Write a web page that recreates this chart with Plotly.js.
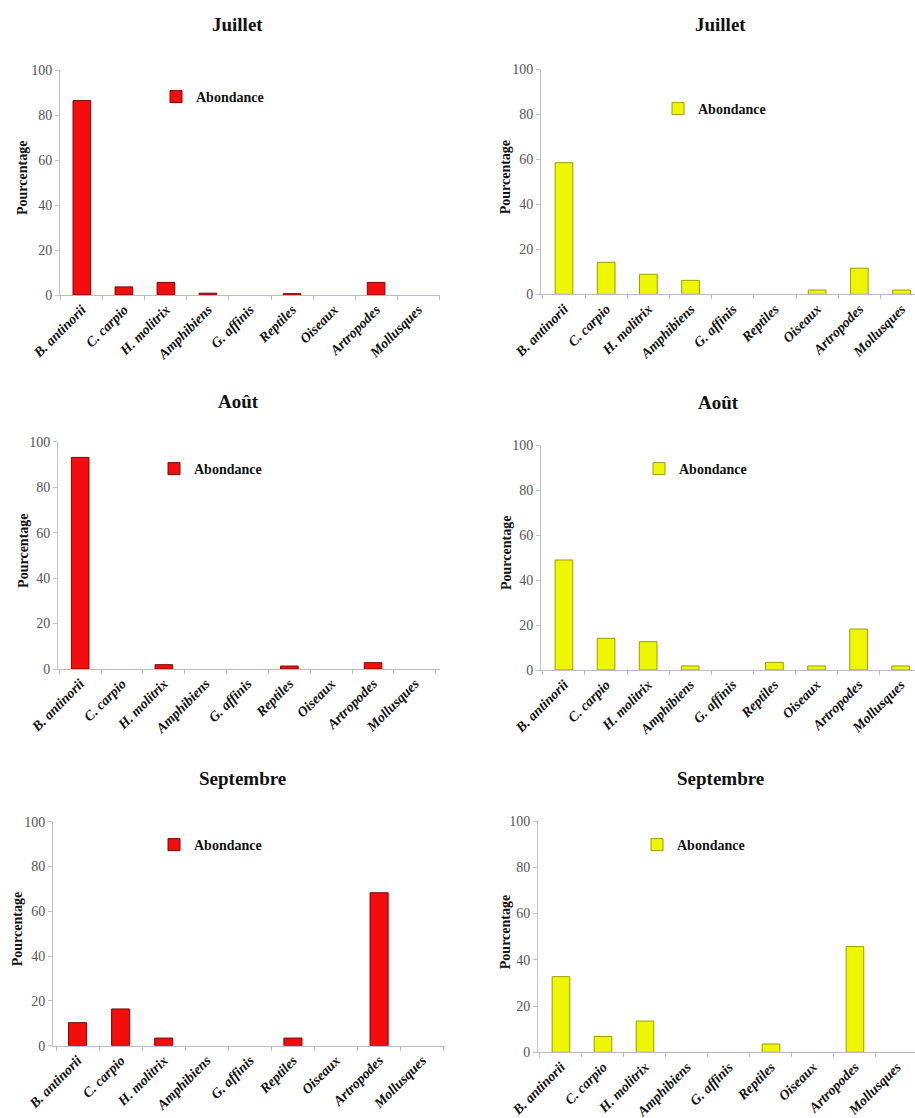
<!DOCTYPE html>
<html>
<head>
<meta charset="utf-8">
<script src="https://cdn.plot.ly/plotly-3.0.1.min.js"></script>
<style>
  html, body { margin: 0; padding: 0; background: #ffffff; }
  #chart { width: 915px; height: 1118px; }
</style>
</head>
<body>
<div id="chart"></div>
<script>
// Prey categories shown on every panel
const categories = ['B. antinorii', 'C. carpio', 'H. molitrix', 'Amphibiens', 'G. affinis',
                    'Reptiles', 'Oiseaux', 'Artropodes', 'Mollusques'];

// Abundance (%) per month, red series (left column)
const juilletRouge = [86.4, 3.6, 5.6, 0.8, 0, 0.6, 0, 5.6, 0];
const aoutRouge    = [93.1, 0, 1.9, 0, 0, 1.3, 0, 2.8, 0];
const septRouge    = [10.3, 16.4, 3.4, 0, 0, 3.4, 0, 68.3, 0];

// Abundance (%) per month, yellow series (right column)
const juilletJaune = [58.5, 14.2, 8.9, 6.2, 0, 0, 1.9, 11.6, 1.9];
const aoutJaune    = [48.9, 14.1, 12.6, 1.8, 0, 3.4, 1.8, 18.2, 1.8];
const septJaune    = [32.7, 6.8, 13.5, 0, 0, 3.6, 0, 45.7, 0];

const monthTitles = ['Juillet', 'Août', 'Septembre'];
const yTicks = [0, 20, 40, 60, 80, 100];
const seriesName = 'Abondance';
const yTitle = 'Pourcentage';

const W = 915, H = 1118;
const px = v => v / W;
const py = v => 1 - v / H;

const SERIF = '"Liberation Serif", "Times New Roman", serif';
const RED = { fill: '#f40d0d', line: '#7c0606' };
const YELLOW = { fill: '#eef600', line: '#9aa000' };

// Panel placement (pixels): plot left/right, baseline y, top y, x range, legend spot, title spot
const panels = [
  { vals: juilletRouge, col: RED,    title: monthTitles[0], x0: 60,  x1: 440, yb: 295,    yt: 70,    xr: [-0.52, 8.52], leg: [156, 97],  tt: [237, 24],  yl: 22 },
  { vals: juilletJaune, col: YELLOW, title: monthTitles[0], x0: 541, x1: 915, yb: 294.3,  yt: 69.3,  xr: [-0.545, 8.32], leg: [658, 109], tt: [720, 24],  yl: 505 },
  { vals: aoutRouge,    col: RED,    title: monthTitles[1], x0: 58,  x1: 440, yb: 669,    yt: 441.7, xr: [-0.53, 8.6],  leg: [154, 469], tt: [238, 401], yl: 24 },
  { vals: aoutJaune,    col: YELLOW, title: monthTitles[1], x0: 541, x1: 915, yb: 670,    yt: 445,   xr: [-0.545, 8.34], leg: [639, 469], tt: [718, 402], yl: 506 },
  { vals: septRouge,    col: RED,    title: monthTitles[2], x0: 53,  x1: 445, yb: 1045.7, yt: 821.7, xr: [-0.57, 8.53], leg: [154, 845], tt: [242, 778], yl: 17 },
  { vals: septJaune,    col: YELLOW, title: monthTitles[2], x0: 538, x1: 915, yb: 1052.3, yt: 821,   xr: [-0.547, 8.43], leg: [637, 845], tt: [720, 778], yl: 505 }
];

const data = [];
const layout = {
  width: W, height: H,
  margin: { l: 0, r: 0, t: 0, b: 0 },
  paper_bgcolor: '#ffffff',
  plot_bgcolor: '#ffffff',
  font: { family: SERIF, color: '#000000' },
  showlegend: true,
  bargap: 0.58,
  annotations: []
};

panels.forEach((p, i) => {
  const n = i + 1;
  const xa = n === 1 ? 'x' : 'x' + n;
  const ya = n === 1 ? 'y' : 'y' + n;
  const legKey = n === 1 ? 'legend' : 'legend' + n;

  data.push({
    type: 'bar',
    x: categories,
    y: p.vals,
    name: seriesName,
    xaxis: xa,
    yaxis: ya,
    legend: legKey,
    showlegend: true,
    width: 0.42,
    marker: {
      color: p.col.fill,
      // no outline on empty categories
      line: { color: p.col.line, width: p.vals.map(v => (v > 0 ? 1 : 0)) }
    },
    hoverinfo: 'x+y'
  });

  layout[n === 1 ? 'xaxis' : 'xaxis' + n] = {
    domain: [px(p.x0), Math.min(1, px(p.x1))],
    anchor: ya,
    type: 'category',
    range: p.xr,
    showgrid: false,
    zeroline: false,
    showline: true,
    linecolor: '#b9b9cf',
    linewidth: 1,
    ticks: 'outside',
    tickson: 'boundaries',
    ticklen: 4,
    tickcolor: '#b9b9cf',
    tickangle: -45,
    tickfont: { family: SERIF, size: 14, weight: 'bold', style: 'italic', color: '#111111' },
    fixedrange: true
  };

  layout[n === 1 ? 'yaxis' : 'yaxis' + n] = {
    domain: [py(p.yb), py(p.yt)],
    anchor: xa,
    range: [0, 100],
    tickvals: yTicks,
    ticktext: yTicks.map(String),
    showgrid: false,
    zeroline: false,
    showline: true,
    linecolor: '#c4c4c4',
    linewidth: 1,
    ticks: 'outside',
    ticklen: 4,
    tickcolor: '#c4c4c4',
    tickfont: { family: SERIF, size: 14, color: '#555555' },
    fixedrange: true
  };

  layout[legKey] = {
    visible: true,
    x: px(p.leg[0]),
    y: py(p.leg[1]),
    xanchor: 'left',
    yanchor: 'middle',
    bgcolor: 'rgba(0,0,0,0)',
    borderwidth: 0,
    font: { family: SERIF, size: 14, weight: 'bold', color: '#111111' }
  };

  // Month heading above each panel
  layout.annotations.push({
    text: p.title,
    xref: 'paper', yref: 'paper',
    x: px(p.tt[0]), y: py(p.tt[1]),
    xanchor: 'center', yanchor: 'middle',
    showarrow: false,
    font: { family: SERIF, size: 19, weight: 'bold', color: '#111111' }
  });

  // Vertical axis label
  layout.annotations.push({
    text: yTitle,
    xref: 'paper', yref: 'paper',
    x: px(p.yl), y: (py(p.yb) + py(p.yt)) / 2 + 0.004,
    xanchor: 'center', yanchor: 'middle',
    textangle: -90,
    showarrow: false,
    font: { family: SERIF, size: 14, weight: 'bold', color: '#111111' }
  });
});

Plotly.newPlot('chart', data, layout, { displayModeBar: false, staticPlot: true });
</script>
</body>
</html>
